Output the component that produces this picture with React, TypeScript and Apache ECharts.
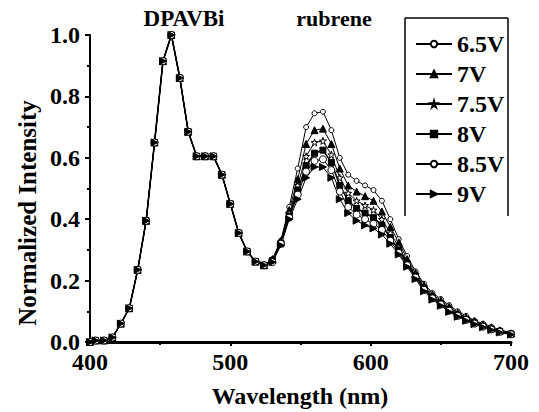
import React, { useEffect, useRef } from "react";
import * as echarts from "echarts";

// Wavelength grid (nm)
const wavelengths = [
  400, 404, 410, 416, 422, 428, 434, 440, 446, 452, 458, 464, 470, 476, 482, 488, 494, 500, 506, 512,
  518, 524, 530, 536, 542, 548, 554, 560, 566, 572, 578, 584, 590, 596, 602, 608, 614, 620, 626, 632,
  638, 644, 650, 656, 662, 668, 674, 680, 686, 692, 700,
];

// DPAVBi emission part (400–524 nm), shared by all voltages
const dpavbiPart = [
  0.0, 0.005, 0.005, 0.015, 0.06, 0.11, 0.235, 0.395, 0.65, 0.915, 1.0, 0.86, 0.685, 0.605, 0.605, 0.605,
  0.545, 0.45, 0.355, 0.295, 0.262, 0.25,
];

// Rubrene part (530–700 nm) for each voltage
const v65 = [0.27, 0.33, 0.44, 0.565, 0.7, 0.745, 0.75, 0.69, 0.6, 0.545, 0.525, 0.51, 0.495, 0.46, 0.4, 0.335, 0.28, 0.23, 0.19, 0.16, 0.14, 0.12, 0.1, 0.085, 0.07, 0.06, 0.05, 0.04, 0.03];
const v7 = [0.27, 0.33, 0.43, 0.53, 0.645, 0.69, 0.695, 0.645, 0.565, 0.51, 0.49, 0.475, 0.46, 0.425, 0.375, 0.325, 0.27, 0.225, 0.185, 0.155, 0.135, 0.115, 0.095, 0.08, 0.068, 0.056, 0.046, 0.037, 0.028];
const v75 = [0.265, 0.325, 0.42, 0.51, 0.605, 0.65, 0.655, 0.61, 0.535, 0.485, 0.46, 0.445, 0.43, 0.4, 0.355, 0.31, 0.26, 0.22, 0.18, 0.15, 0.13, 0.11, 0.092, 0.078, 0.065, 0.054, 0.044, 0.035, 0.027];
const v8 = [0.265, 0.32, 0.41, 0.495, 0.575, 0.615, 0.625, 0.585, 0.51, 0.46, 0.435, 0.42, 0.405, 0.38, 0.34, 0.3, 0.255, 0.215, 0.175, 0.145, 0.125, 0.105, 0.088, 0.074, 0.062, 0.052, 0.042, 0.034, 0.026];
const v85 = [0.26, 0.32, 0.405, 0.48, 0.555, 0.59, 0.595, 0.56, 0.49, 0.44, 0.415, 0.4, 0.385, 0.365, 0.33, 0.29, 0.25, 0.21, 0.17, 0.142, 0.122, 0.102, 0.085, 0.072, 0.06, 0.05, 0.041, 0.033, 0.025];
const v9 = [0.26, 0.315, 0.4, 0.465, 0.535, 0.57, 0.57, 0.535, 0.465, 0.42, 0.395, 0.38, 0.37, 0.35, 0.32, 0.285, 0.245, 0.205, 0.165, 0.138, 0.118, 0.098, 0.082, 0.069, 0.058, 0.048, 0.039, 0.031, 0.024];

const seriesNames = ["6.5V", "7V", "7.5V", "8V", "8.5V", "9V"];
const rubreneParts = [v65, v7, v75, v8, v85, v9];

const xTicks = [400, 500, 600, 700];
const yTicks = [0.0, 0.2, 0.4, 0.6, 0.8, 1.0];

const FONT = "Liberation Serif";
const STAR = "path://M50,0 L61,35 L98,35 L68,57 L79,91 L50,70 L21,91 L32,57 L2,35 L39,35 Z";

const markerStyles = [
  { symbol: "circle", symbolSize: 5, fill: "#fff", rotate: 0, lw: 1 },
  { symbol: "triangle", symbolSize: 7, fill: "#000", rotate: 0, lw: 1 },
  { symbol: STAR, symbolSize: 7, fill: "#fff", rotate: 0, lw: 1 },
  { symbol: "rect", symbolSize: 6, fill: "#000", rotate: 0, lw: 1.6 },
  { symbol: "circle", symbolSize: 7, fill: "#fff", rotate: 0, lw: 1 },
  { symbol: "triangle", symbolSize: 7, fill: "#000", rotate: -90, lw: 1 },
];

export default function App() {
  const ref = useRef<HTMLDivElement>(null);

  useEffect(() => {
    if (!ref.current) return;
    const chart = echarts.init(ref.current, null, { renderer: "svg" });

    const series = seriesNames.map((name, i) => {
      const values = dpavbiPart.concat(rubreneParts[i]);
      const m = markerStyles[i];
      return {
        name,
        type: "line",
        data: wavelengths.map((w, k) => [w, values[k]]),
        symbol: m.symbol,
        symbolSize: m.symbolSize,
        symbolRotate: m.rotate,
        showAllSymbol: true,
        lineStyle: { color: "#000", width: m.lw },
        itemStyle: { color: m.fill, borderColor: "#000", borderWidth: 1 },
        emphasis: { disabled: true },
      };
    });

    chart.setOption({
      animation: false,
      backgroundColor: "#fff",
      textStyle: { fontFamily: FONT },
      grid: { left: 90, right: 28, top: 35, bottom: 70 },
      xAxis: {
        type: "value",
        min: 400,
        max: 700,
        interval: 100,
        axisLine: { show: true, lineStyle: { color: "#000", width: 3 } },
        axisTick: { show: true, length: 4, inside: false, lineStyle: { color: "#000", width: 2 } },
        minorTick: { show: true, splitNumber: 2, length: 3, lineStyle: { color: "#000", width: 2 } },
        splitLine: { show: false },
        axisLabel: {
          color: "#000",
          fontFamily: FONT,
          fontWeight: "bold",
          fontSize: 24,
          lineHeight: 22,
          margin: 9,
          customValues: xTicks,
        },
      },
      yAxis: {
        type: "value",
        min: 0,
        max: 1,
        interval: 0.2,
        axisLine: { show: true, lineStyle: { color: "#000", width: 2 } },
        axisTick: { show: true, length: 5, lineStyle: { color: "#000", width: 2 } },
        minorTick: { show: true, splitNumber: 2, length: 3, lineStyle: { color: "#000", width: 2 } },
        splitLine: { show: false },
        axisLabel: {
          color: "#000",
          fontFamily: FONT,
          fontWeight: "bold",
          fontSize: 24,
          lineHeight: 14,
          margin: 10,
          formatter: (v: number) => v.toFixed(1),
          customValues: yTicks,
        },
      },
      legend: {
        orient: "vertical",
        left: 410,
        top: 27,
        itemWidth: 36,
        itemHeight: 8,
        itemGap: 6,
        textStyle: { color: "#000", fontFamily: FONT, fontWeight: "bold", fontSize: 24, lineHeight: 24 },
        data: seriesNames,
      },
      graphic: [
        { type: "line", shape: { x1: 405, y1: 18, x2: 508, y2: 18 }, style: { stroke: "#000", lineWidth: 1.5 } },
        { type: "line", shape: { x1: 405, y1: 18, x2: 405, y2: 216 }, style: { stroke: "#000", lineWidth: 1.5 } },
        { type: "line", shape: { x1: 508, y1: 18, x2: 508, y2: 216 }, style: { stroke: "#000", lineWidth: 1.5 } },
        {
          type: "text",
          x: 184,
          y: 18,
          style: { text: "DPAVBi", fill: "#000", fontFamily: FONT, fontWeight: "bold", fontSize: 23, align: "center", verticalAlign: "middle" },
        },
        {
          type: "text",
          x: 334,
          y: 18,
          style: { text: "rubrene", fill: "#000", fontFamily: FONT, fontWeight: "bold", fontSize: 22, align: "center", verticalAlign: "middle" },
        },
        {
          type: "text",
          x: 300,
          y: 396,
          style: { text: "Wavelength (nm)", fill: "#000", fontFamily: FONT, fontWeight: "bold", fontSize: 24, align: "center", verticalAlign: "middle" },
        },
        {
          type: "text",
          x: 27,
          y: 213,
          rotation: Math.PI / 2,
          style: { text: "Normalized Intensity", fill: "#000", fontFamily: FONT, fontWeight: "bold", fontSize: 25, align: "center", verticalAlign: "middle" },
        },
      ],
      series,
    });

    return () => chart.dispose();
  }, []);

  return <div ref={ref} style={{ position: "fixed", left: 0, top: 0, width: 539, height: 412 }} />;
}
